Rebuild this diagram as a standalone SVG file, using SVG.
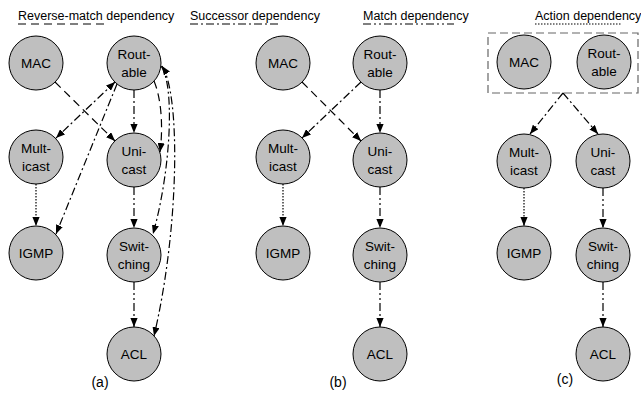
<svg xmlns="http://www.w3.org/2000/svg" width="641" height="403" viewBox="0 0 641 403">
<style>
text{font-family:"Liberation Sans",Arial,sans-serif;fill:#000}
.lg{font-size:12.5px}
.nd circle{fill:#bfbfbf;stroke:#000;stroke-width:1}
.nd text{font-size:13.5px;text-anchor:middle}
.cap{font-size:14px;text-anchor:middle}
.e{fill:none;stroke:#000;stroke-width:1.2}
.rm{stroke-dasharray:8 5}
.sc{stroke-dasharray:8 3 2 3}
.mt{stroke-dasharray:8 3 2 3 2 3}
.ac{stroke-dasharray:1.5 1.5}
.arr{marker-end:url(#ah)}
</style>
<defs>
<marker id="ah" viewBox="0 0 10 8" refX="10" refY="4" markerWidth="9" markerHeight="7.2" markerUnits="userSpaceOnUse" orient="auto-start-reverse"><path d="M0,0 L10,4 L0,8 z" fill="#000"/></marker>
</defs>
<rect width="641" height="403" fill="#fff"/>
<g id="legend">
<text class="lg" x="18" y="20">Reverse-match dependency</text>
<line class="e rm" x1="18" y1="24" x2="104" y2="24"/>
<text class="lg" x="190" y="20">Successor dependency</text>
<line class="e sc" x1="190" y1="24" x2="278" y2="24"/>
<text class="lg" x="363" y="20">Match dependency</text>
<line class="e mt" x1="363" y1="24" x2="454" y2="24"/>
<text class="lg" x="535" y="20">Action dependency</text>
<line class="e ac" x1="535" y1="24" x2="622" y2="24"/>
</g>
<g id="connectors">
<!-- (a) -->
<line class="e rm arr" x1="55" y1="82" x2="115" y2="141"/>
<line class="e sc arr" x1="115" y1="82" x2="56" y2="138" marker-start="url(#ah)"/>
<line class="e sc arr" x1="117" y1="84" x2="56" y2="234"/>
<line class="e sc arr" x1="134" y1="90" x2="134" y2="133"/>
<path class="e rm arr" d="M154,81 C162,100 163,130 160,152"/>
<path class="e sc arr" d="M161,66 C175,85 171,170 153,234"/>
<path class="e sc arr" d="M162,66 C181,95 179,230 154,336" marker-start="url(#ah)"/>
<line class="e ac arr" x1="36" y1="184" x2="36" y2="226"/>
<line class="e mt arr" x1="134" y1="187" x2="134" y2="228"/>
<line class="e mt arr" x1="134" y1="282" x2="134" y2="327"/>
<!-- (b) -->
<line class="e rm arr" x1="302" y1="82" x2="361" y2="141"/>
<line class="e sc arr" x1="361" y1="82" x2="302" y2="138"/>
<line class="e sc arr" x1="380" y1="90" x2="380" y2="133"/>
<line class="e ac arr" x1="283" y1="184" x2="283" y2="226"/>
<line class="e mt arr" x1="380" y1="187" x2="380" y2="228"/>
<line class="e mt arr" x1="380" y1="282" x2="380" y2="327"/>
<!-- (c) -->
<line class="e sc arr" x1="563" y1="93" x2="530" y2="134"/>
<line class="e sc arr" x1="563" y1="93" x2="598" y2="134"/>
<line class="e ac arr" x1="524" y1="188" x2="524" y2="226"/>
<line class="e mt arr" x1="603" y1="188" x2="603" y2="228"/>
<line class="e mt arr" x1="603" y1="282" x2="603" y2="327"/>
</g>
<g id="a-MAC" class="nd"><circle cx="36" cy="63" r="27"/><text x="36" y="68">MAC</text></g>
<g id="a-Routable" class="nd"><circle cx="134" cy="63" r="27"/><text x="134" y="59">Rout-</text><text x="134" y="77">able</text></g>
<g id="a-Multicast" class="nd"><circle cx="36" cy="157" r="27"/><text x="36" y="153">Mult-</text><text x="36" y="171">icast</text></g>
<g id="a-Unicast" class="nd"><circle cx="134" cy="160" r="27"/><text x="134" y="156">Uni-</text><text x="134" y="174">cast</text></g>
<g id="a-IGMP" class="nd"><circle cx="36" cy="253" r="27"/><text x="36" y="258">IGMP</text></g>
<g id="a-Switching" class="nd"><circle cx="134" cy="255" r="27"/><text x="134" y="251">Swit-</text><text x="134" y="269">ching</text></g>
<g id="a-ACL" class="nd"><circle cx="134" cy="354" r="27"/><text x="134" y="359">ACL</text></g>
<text class="cap" x="100" y="387">(a)</text>
<g id="b-MAC" class="nd"><circle cx="283" cy="63" r="27"/><text x="283" y="68">MAC</text></g>
<g id="b-Routable" class="nd"><circle cx="380" cy="63" r="27"/><text x="380" y="59">Rout-</text><text x="380" y="77">able</text></g>
<g id="b-Multicast" class="nd"><circle cx="283" cy="157" r="27"/><text x="283" y="153">Mult-</text><text x="283" y="171">icast</text></g>
<g id="b-Unicast" class="nd"><circle cx="380" cy="160" r="27"/><text x="380" y="156">Uni-</text><text x="380" y="174">cast</text></g>
<g id="b-IGMP" class="nd"><circle cx="283" cy="253" r="27"/><text x="283" y="258">IGMP</text></g>
<g id="b-Switching" class="nd"><circle cx="380" cy="255" r="27"/><text x="380" y="251">Swit-</text><text x="380" y="269">ching</text></g>
<g id="b-ACL" class="nd"><circle cx="380" cy="354" r="27"/><text x="380" y="359">ACL</text></g>
<text class="cap" x="338" y="387">(b)</text>
<g id="c-group"><rect x="488" y="33" width="150" height="60" fill="none" stroke="#666" stroke-width="1.2" stroke-dasharray="8 4"/></g>
<g id="c-MAC" class="nd"><circle cx="524" cy="62" r="27"/><text x="524" y="67">MAC</text></g>
<g id="c-Routable" class="nd"><circle cx="604" cy="62" r="27"/><text x="604" y="58">Rout-</text><text x="604" y="76">able</text></g>
<g id="c-Multicast" class="nd"><circle cx="524" cy="161" r="27"/><text x="524" y="157">Mult-</text><text x="524" y="175">icast</text></g>
<g id="c-Unicast" class="nd"><circle cx="603" cy="161" r="27"/><text x="603" y="157">Uni-</text><text x="603" y="175">cast</text></g>
<g id="c-IGMP" class="nd"><circle cx="524" cy="253" r="27"/><text x="524" y="258">IGMP</text></g>
<g id="c-Switching" class="nd"><circle cx="603" cy="255" r="27"/><text x="603" y="251">Swit-</text><text x="603" y="269">ching</text></g>
<g id="c-ACL" class="nd"><circle cx="603" cy="354" r="27"/><text x="603" y="359">ACL</text></g>
<text class="cap" x="565" y="384">(c)</text>
</svg>
